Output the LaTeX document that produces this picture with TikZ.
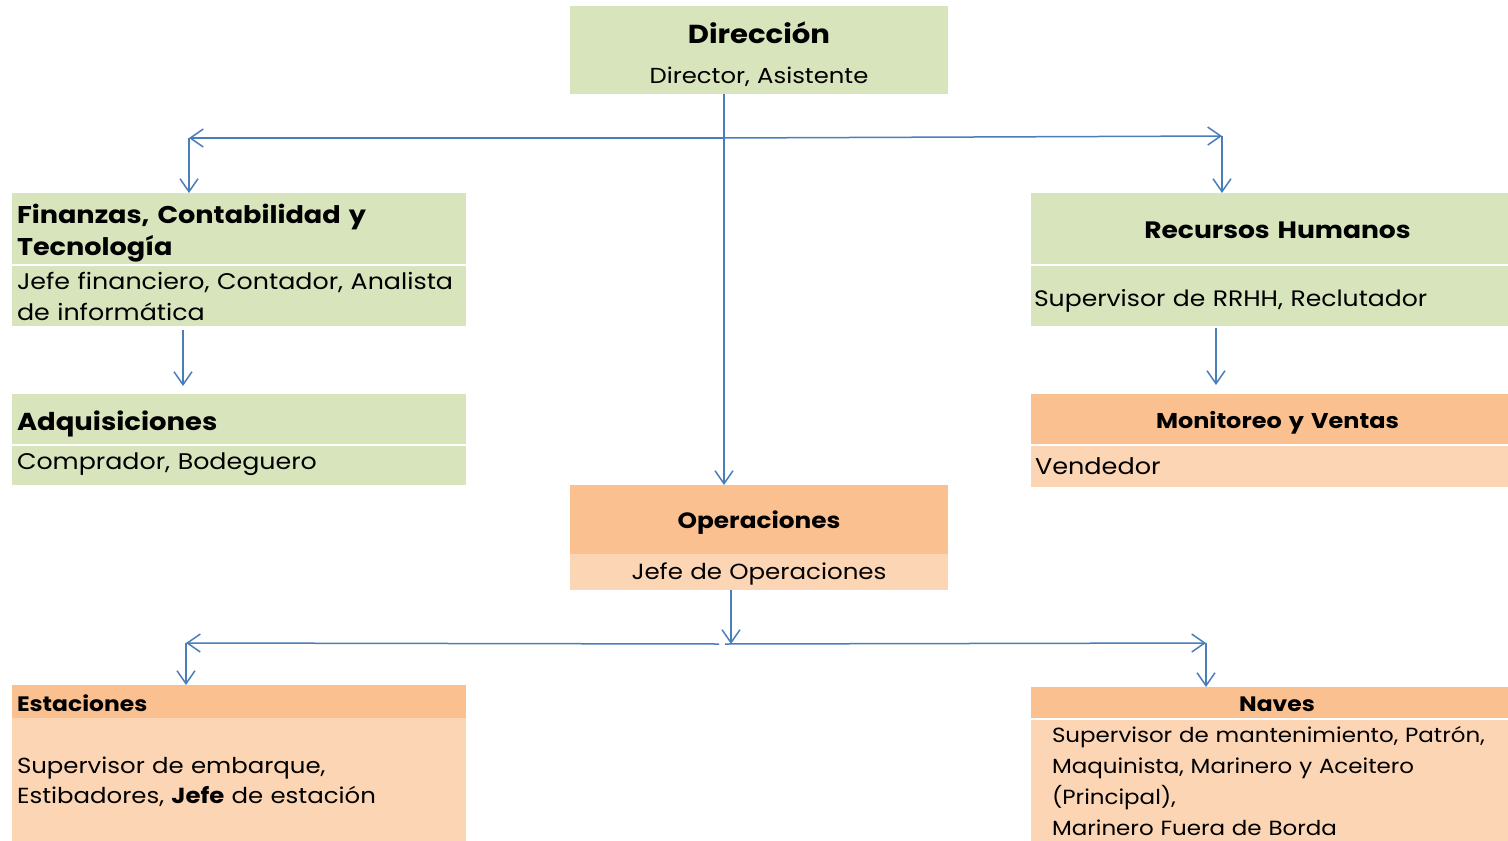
\documentclass[tikz,border=0pt]{standalone}
\usepackage{fontspec}
\setmainfont{Poppins}[FakeStretch=1.12]
\usetikzlibrary{arrows.meta}
\definecolor{grn}{HTML}{D8E4BC}
\definecolor{orH}{HTML}{FAC090}
\definecolor{orL}{HTML}{FCD5B5}
\definecolor{lnk}{HTML}{4A7EBB}
\begin{document}
\begin{tikzpicture}[x=1pt,y=-1pt,
  cell/.style={anchor=north west, inner ysep=0pt, outer sep=0pt, draw=none},
  ttl/.style={font=\bfseries\fontsize{#1}{32}\selectfont},
  bdy/.style={font=\fontsize{#1}{31}\selectfont},
  up/.style={text height=#1pt, text depth=0pt},
  dn/.style={text height=0pt, text depth=#1pt},
  arr/.style={draw=lnk, line width=1.5pt, -{Straight Barb[length=13pt,width=18pt]}}]
\useasboundingbox (0,0) rectangle (1508,841);
% Direccion
\node[cell, fill=grn, text width=368pt, inner xsep=5pt, align=center, minimum height=55pt, ttl=26, up=19.4] (dirH) at (570,6) {Dirección};
\node[cell, fill=grn, text width=368pt, inner xsep=5pt, align=center, minimum height=34pt, bdy=21.7, up=12.6] (dirB) at (570,60) {Director, Asistente};
% Finanzas
\node[cell, fill=grn, text width=444pt, inner xsep=5pt, align=left, minimum height=71pt, ttl=24.2, dn=10.4] (finH) at (12,193) {Finanzas, Contabilidad y\\Tecnología};
\node[cell, fill=grn, text width=444pt, inner xsep=5pt, align=left, minimum height=60pt, bdy=22.6, dn=14] (finB) at (12,266) {Jefe financiero, Contador, Analista\\de informática};
% Adquisiciones
\node[cell, fill=grn, text width=444pt, inner xsep=5pt, align=left, minimum height=50pt, ttl=24.5, up=22] (adqH) at (12,394) {Adquisiciones};
\node[cell, fill=grn, text width=444pt, inner xsep=5pt, align=left, minimum height=39pt, bdy=22.6, up=7] (adqB) at (12,446) {Comprador, Bodeguero};
% Recursos Humanos
\node[cell, fill=grn, text width=467pt, inner xsep=5pt, align=center, minimum height=71pt, ttl=23.7, up=19] (rrhH) at (1031,193) {\hspace*{16pt}Recursos Humanos};
\node[cell, fill=grn, text width=471pt, inner xsep=3pt, align=left, minimum height=60pt, bdy=22.4, up=20] (rrhB) at (1031,266) {Supervisor de RRHH, Reclutador};
% Monitoreo y Ventas
\node[cell, fill=orH, text width=467pt, inner xsep=5pt, align=center, minimum height=50pt, ttl=21.4, up=18] (monH) at (1031,394) {\hspace*{16pt}Monitoreo y Ventas};
\node[cell, fill=orL, text width=469pt, inner xsep=4pt, align=left, minimum height=41pt, bdy=22.8, up=15] (monB) at (1031,446) {Vendedor};
% Operaciones
\node[cell, fill=orH, text width=368pt, inner xsep=5pt, align=center, minimum height=69pt, ttl=22.1, up=17] (opH) at (570,485) {Operaciones};
\node[cell, fill=orL, text width=368pt, inner xsep=5pt, align=center, minimum height=36pt, bdy=21.9, up=14] (opB) at (570,554) {Jefe de Operaciones};
% Estaciones
\node[cell, fill=orH, text width=444pt, inner xsep=5pt, align=left, minimum height=33pt, ttl=20.9, up=19] (estH) at (12,685) {Estaciones};
\node[cell, fill=orL, text width=444pt, inner xsep=5pt, align=left, minimum height=123pt, font=\fontsize{21.8}{30}\selectfont, dn=13] (estB) at (12,718) {Supervisor de embarque,\\Estibadores, \textbf{Jefe} de estación};
% Naves
\node[cell, fill=orH, text width=467pt, inner xsep=5pt, align=center, minimum height=31pt, ttl=20.9, up=17] (navH) at (1031,687) {\hspace*{15pt}Naves};
\node[cell, fill=orL, text width=445pt, inner xsep=21pt, align=left, minimum height=121pt, font=\fontsize{20.5}{31.3}\selectfont, dn=77] (navB) at (1031,720) {Supervisor de mantenimiento, Patrón,\\Maquinista, Marinero y Aceitero\\(Principal),\\Marinero Fuera de Borda};
% connectors
\coordinate (h1) at (724,138);
\coordinate (tl) at (189,138);
\coordinate (tr) at (1222,136);
\coordinate (fa) at (183,330);
\coordinate (rm) at (1216,330);
\coordinate (h2) at (731,644);
\coordinate (h2l) at (719,644);
\coordinate (h2r) at (725,644);
\coordinate (bl) at (186,643);
\coordinate (br) at (1206,643);
\draw[arr] (h1 |- dirB.south) -- (h1 |- opH.north);
\draw[arr] (h1) -- (tl);
\draw[arr] (h1) -- (tr);
\draw[arr] (tl) -- (tl |- finH.north);
\draw[arr] (tr) -- (tr |- rrhH.north);
\draw[arr, shorten <=4pt, shorten >=8pt] (fa |- finB.south) -- (fa |- adqH.north);
\draw[arr, shorten <=2pt, shorten >=9pt] (rm |- rrhB.south) -- (rm |- monH.north);
\draw[arr] (h2 |- opB.south) -- (h2);
\draw[arr] (h2l) -- (bl);
\draw[arr] (h2r) -- (br);
\draw[arr] (bl) -- (bl |- estH.north);
\draw[arr] (br) -- (br |- navH.north);
\end{tikzpicture}
\end{document}
